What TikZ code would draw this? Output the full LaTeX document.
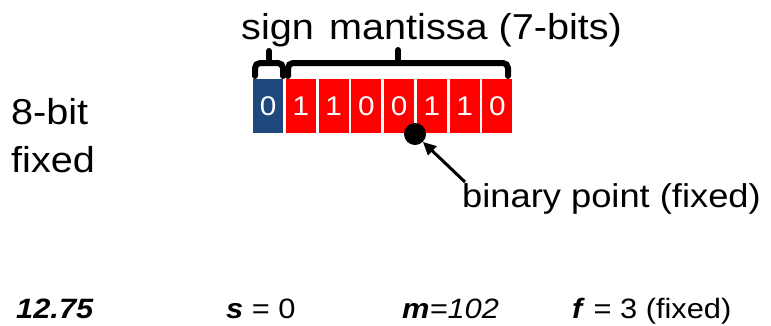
\documentclass[tikz,border=0pt]{standalone}
\usepackage{fontspec}
\setmainfont[FakeStretch=1.1]{Liberation Sans}
\usetikzlibrary{arrows.meta}
\definecolor{signblue}{RGB}{31,73,125}
\definecolor{bitred}{RGB}{255,0,0}
\tikzset{
  bitbox/.style={minimum width=30pt, minimum height=54pt, inner sep=0pt, anchor=north west,
                 text=white, font=\fontsize{27}{27}\selectfont},
  brace/.style={line width=6pt, rounded corners=5pt, line cap=round},
  label/.style={inner sep=0pt, anchor=base west, font=\fontsize{36}{36}\selectfont},
  pointlabel/.style={inner sep=0pt, anchor=base west, font=\fontsize{33}{33}\selectfont},
  bottom/.style={inner sep=0pt, anchor=base west, font=\fontsize{28}{28}\selectfont},
}
\begin{document}
\begin{tikzpicture}[x=1pt, y=-1pt]
\useasboundingbox (0,0) rectangle (771,325);
% the eight bits
\node[bitbox, fill=signblue] (b0) at (253,79) {0};
\foreach \i/\v in {1/1,2/1,3/0,4/0,5/1,6/1,7/0}{
  \node[bitbox, fill=bitred] (b\i) at ({253+\i*32.75},79) {\v};
}
% braces
\draw[brace] (255,76) -- (255,63) -- (283,63) -- (283,76);
\draw[brace, rounded corners=0pt] (269,63) -- (269,51);
\draw[brace] (288,76) -- (288,63) -- (508,63) -- (508,76);
\draw[brace, rounded corners=0pt] (398,63) -- (398,50);
% labels
\node[label] (sign) at (241,39) {sign};
\node[label] (mant) at (329,39) {mantissa (7-bits)};
\node[label] (fx1) at (11,124) {8-bit};
\node[label] (fx2) at (11,172) {fixed};
% binary point
\node[circle, fill=black, minimum size=22pt, inner sep=0pt] (pt) at (415,134) {};
\node[pointlabel] (bp) at (462,207) {binary point (fixed)};
\coordinate (tail) at (465,182);
\draw[line width=3pt, -{Triangle[length=13pt,width=12pt]}] (tail) -- (pt.south east);
% values
\node[bottom] (v) at (16,318) {\textbf{\textit{12.75}}};
\node[bottom] (s) at (226,318) {\textbf{\textit{s}} = 0};
\node[bottom] (m) at (402,318) {\textbf{\textit{m}}\textit{=102}};
\node[bottom] (f) at (572,318) {\textbf{\textit{f}} = 3 (fixed)};
\end{tikzpicture}
\end{document}
